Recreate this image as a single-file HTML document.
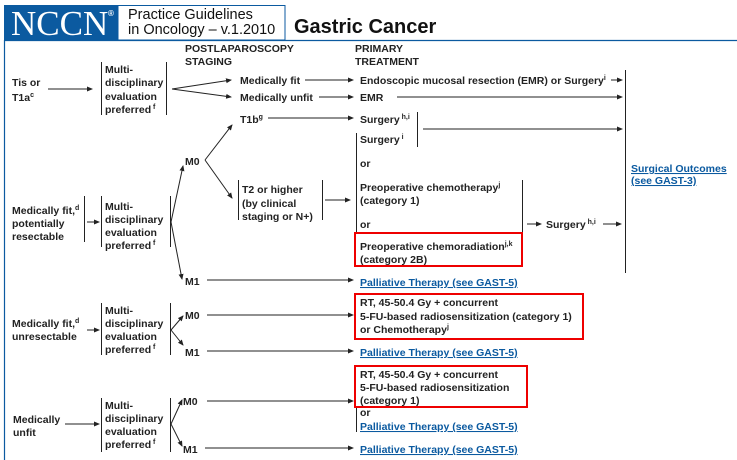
<!DOCTYPE html>
<html><head><meta charset="utf-8"><style>
html,body{margin:0;padding:0;background:#fff;width:737px;height:460px;overflow:hidden}
svg{display:block}
text{font-family:"Liberation Sans",Arial,sans-serif;font-size:10.5px;font-weight:bold;fill:#222}
.l{fill:#0b5aa0;text-decoration:underline}
.s{font-size:7px}
</style></head><body>
<svg width="737" height="460" viewBox="0 0 737 460">
<defs><marker id="a" markerWidth="6" markerHeight="6" refX="5" refY="3" orient="auto" markerUnits="userSpaceOnUse"><path d="M0,0.5 L6,3 L0,5.5z" fill="#222"/></marker></defs>
<!-- header -->
<rect x="4" y="5" width="114" height="35" fill="#0b5aa0"/>
<text x="11" y="35" style="font-family:'Liberation Serif',serif;font-size:35px;font-weight:normal;fill:#fff">NCCN</text>
<text x="108" y="16" style="font-size:8px;fill:#fff">®</text>
<rect x="118" y="5.5" width="167" height="34.5" fill="#fff" stroke="#0b5aa0" stroke-width="1"/>
<text x="128" y="19" style="font-size:14.5px;font-weight:normal;fill:#111">Practice Guidelines</text>
<text x="128" y="34" style="font-size:14.5px;font-weight:normal;fill:#111">in Oncology – v.1.2010</text>
<text x="294" y="33" style="font-size:20px;fill:#111">Gastric Cancer</text>
<line x1="4" y1="40.5" x2="737" y2="40.5" stroke="#0b5aa0" stroke-width="1.2"/>
<line x1="4.5" y1="40" x2="4.5" y2="460" stroke="#0b5aa0" stroke-width="1.2"/>
<text x="185" y="52">POSTLAPAROSCOPY</text><text x="185" y="65">STAGING</text>
<text x="355" y="52">PRIMARY</text><text x="355" y="65">TREATMENT</text>
<g stroke="#222" stroke-width="1" fill="none">
<line x1="48" y1="89" x2="92" y2="89" marker-end="url(#a)"/>
<line x1="101.5" y1="62" x2="101.5" y2="115"/><line x1="166.5" y1="62" x2="166.5" y2="115"/>
<line x1="172" y1="89" x2="231" y2="80" marker-end="url(#a)"/>
<line x1="172" y1="89" x2="231" y2="97" marker-end="url(#a)"/>
<line x1="305" y1="80" x2="353" y2="80" marker-end="url(#a)"/>
<line x1="611" y1="80" x2="622" y2="80" marker-end="url(#a)"/>
<line x1="319" y1="97" x2="353" y2="97" marker-end="url(#a)"/>
<line x1="397" y1="97" x2="622" y2="97" marker-end="url(#a)"/>
<line x1="625.5" y1="70" x2="625.5" y2="273"/>
<line x1="268" y1="118" x2="353" y2="118" marker-end="url(#a)"/>
<line x1="417.5" y1="112" x2="417.5" y2="147"/>
<line x1="423" y1="129" x2="622" y2="129" marker-end="url(#a)"/>
<line x1="356.5" y1="133" x2="356.5" y2="234"/>
<line x1="522.5" y1="180" x2="522.5" y2="233"/>
<line x1="527" y1="224" x2="541" y2="224" marker-end="url(#a)"/>
<line x1="603" y1="224" x2="621" y2="224" marker-end="url(#a)"/>
<line x1="205" y1="160" x2="232" y2="125" marker-end="url(#a)"/>
<line x1="205" y1="160" x2="232" y2="198" marker-end="url(#a)"/>
<line x1="238.5" y1="180" x2="238.5" y2="220"/><line x1="322.5" y1="180" x2="322.5" y2="220"/>
<line x1="325" y1="200" x2="350" y2="200" marker-end="url(#a)"/>
<line x1="84.5" y1="196" x2="84.5" y2="242"/>
<line x1="87" y1="222" x2="99" y2="222" marker-end="url(#a)"/>
<line x1="101.5" y1="196" x2="101.5" y2="247"/><line x1="170.5" y1="196" x2="170.5" y2="247"/>
<line x1="171" y1="222" x2="183" y2="166" marker-end="url(#a)"/>
<line x1="171" y1="222" x2="182" y2="279" marker-end="url(#a)"/>
<line x1="207" y1="280" x2="353" y2="280" marker-end="url(#a)"/>
<line x1="87" y1="330" x2="99" y2="330" marker-end="url(#a)"/>
<line x1="101.5" y1="303" x2="101.5" y2="355"/><line x1="170.5" y1="303" x2="170.5" y2="355"/>
<line x1="171" y1="330" x2="183" y2="316" marker-end="url(#a)"/>
<line x1="171" y1="330" x2="183" y2="345" marker-end="url(#a)"/>
<line x1="207" y1="315" x2="353" y2="315" marker-end="url(#a)"/>
<line x1="207" y1="351" x2="353" y2="351" marker-end="url(#a)"/>
<line x1="65" y1="424" x2="99" y2="424" marker-end="url(#a)"/>
<line x1="101.5" y1="398" x2="101.5" y2="452"/><line x1="170.5" y1="398" x2="170.5" y2="452"/>
<line x1="171" y1="424" x2="182" y2="400" marker-end="url(#a)"/>
<line x1="171" y1="424" x2="182" y2="446" marker-end="url(#a)"/>
<line x1="207" y1="401" x2="353" y2="401" marker-end="url(#a)"/>
<line x1="205" y1="448" x2="353" y2="448" marker-end="url(#a)"/>
<line x1="356.5" y1="407" x2="356.5" y2="432"/>
</g>
<g fill="none" stroke="#e00" stroke-width="2">
<rect x="355" y="233" width="167" height="33"/>
<rect x="355" y="294" width="228" height="45"/>
<rect x="355" y="366" width="172" height="41"/>
</g>
<text x="12" y="86">Tis or</text><text x="12" y="101">T1a<tspan class="s" dy="-4">c</tspan></text>
<text x="105" y="73">Multi-</text><text x="105" y="86">disciplinary</text><text x="105" y="100">evaluation</text><text x="105" y="113">preferred<tspan class="s" dy="-4"> f</tspan></text>
<text x="240" y="84">Medically fit</text>
<text x="360" y="84">Endoscopic mucosal resection (EMR) or Surgery<tspan class="s" dy="-4">i</tspan></text>
<text x="240" y="101">Medically unfit</text><text x="360" y="101">EMR</text>
<text x="240" y="123">T1b<tspan class="s" dy="-4">g</tspan></text>
<text x="360" y="123">Surgery<tspan class="s" dy="-4"> h,i</tspan></text>
<text x="360" y="143">Surgery<tspan class="s" dy="-4"> i</tspan></text>
<text x="360" y="167">or</text>
<text x="360" y="191">Preoperative chemotherapy<tspan class="s" dy="-4">j</tspan></text>
<text x="360" y="204">(category 1)</text>
<text x="360" y="228">or</text>
<text x="360" y="250">Preoperative chemoradiation<tspan class="s" dy="-4">j,k</tspan></text>
<text x="360" y="263">(category 2B)</text>
<text x="546" y="228">Surgery<tspan class="s" dy="-4"> h,i</tspan></text>
<text x="631" y="172" class="l">Surgical Outcomes</text>
<text x="631" y="184" class="l">(see GAST-3)</text>
<text x="185" y="165">M0</text>
<text x="242" y="193">T2 or higher</text><text x="242" y="207">(by clinical</text><text x="242" y="220">staging or N+)</text>
<text x="12" y="214">Medically fit,<tspan class="s" dy="-4">d</tspan></text><text x="12" y="227">potentially</text><text x="12" y="240">resectable</text>
<text x="105" y="210">Multi-</text><text x="105" y="223">disciplinary</text><text x="105" y="236">evaluation</text><text x="105" y="249">preferred<tspan class="s" dy="-4"> f</tspan></text>
<text x="185" y="285">M1</text>
<text x="360" y="286" class="l">Palliative Therapy (see GAST-5)</text>
<text x="12" y="327">Medically fit,<tspan class="s" dy="-4">d</tspan></text><text x="12" y="340">unresectable</text>
<text x="105" y="314">Multi-</text><text x="105" y="327">disciplinary</text><text x="105" y="340">evaluation</text><text x="105" y="353">preferred<tspan class="s" dy="-4"> f</tspan></text>
<text x="185" y="319">M0</text><text x="185" y="356">M1</text>
<text x="360" y="306">RT, 45-50.4 Gy + concurrent</text>
<text x="360" y="320">5-FU-based radiosensitization (category 1)</text>
<text x="360" y="333">or Chemotherapy<tspan class="s" dy="-4">j</tspan></text>
<text x="360" y="356" class="l">Palliative Therapy (see GAST-5)</text>
<text x="13" y="423">Medically</text><text x="13" y="436">unfit</text>
<text x="105" y="409">Multi-</text><text x="105" y="422">disciplinary</text><text x="105" y="435">evaluation</text><text x="105" y="448">preferred<tspan class="s" dy="-4"> f</tspan></text>
<text x="183" y="405">M0</text><text x="183" y="453">M1</text>
<text x="360" y="378">RT, 45-50.4 Gy + concurrent</text>
<text x="360" y="391">5-FU-based radiosensitization</text>
<text x="360" y="404">(category 1)</text>
<text x="360" y="416">or</text>
<text x="360" y="430" class="l">Palliative Therapy (see GAST-5)</text>
<text x="360" y="453" class="l">Palliative Therapy (see GAST-5)</text>
</svg>
</body></html>
